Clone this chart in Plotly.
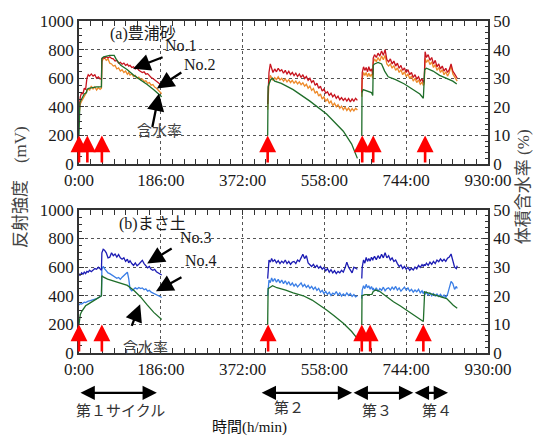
import plotly.graph_objects as go

# ---------------- time grids (hours) ----------------
C1 = [0, 1, 3, 6, 9, 12, 15, 18, 21, 24, 28, 32, 36, 40, 44, 48, 51, 52, 55, 58,
      62, 66, 70, 74, 78, 82, 86, 90, 94, 98, 102, 106, 110, 113, 116, 120, 124, 128,
      132, 136, 140, 144, 148, 152, 156, 160, 164, 168, 172, 176, 180, 184, 188]
C2 = [429, 430, 432, 435, 438, 441, 445, 449, 453, 457, 461, 465, 469, 473, 477, 481,
      485, 489, 493, 497, 501, 505, 509, 513, 517, 521, 525, 529, 533, 537, 541, 545,
      549, 553, 557, 561, 565, 569, 573, 577, 581, 585, 589, 593, 597, 601, 605, 609,
      613, 617, 621, 625, 629, 633]
C3 = [643, 644, 647, 650, 653, 656, 659, 662, 665, 668, 669, 672, 676, 680, 684, 688,
      692, 696, 700, 704, 708, 712, 716, 720, 724, 728, 732, 736, 740, 744, 748, 752,
      756, 760, 764, 768, 772, 776, 780, 783, 785, 787, 790, 794, 798, 802, 806, 810,
      814, 818, 822, 826, 830, 834, 838, 842, 846, 850, 854, 858, 860]

# ---------------- (a) 豊浦砂 : reflection intensity (mV) ----------------
NO1_C1 = [380, 420, 470, 500, 490, 530, 520, 600, 625, 615, 630, 615, 625, 600, 610, 595, 600, 735, 745, 740,
          750, 742, 750, 738, 735, 720, 725, 705, 712, 698, 705, 690, 698, 685, 690, 675, 680, 665,
          672, 655, 650, 640, 645, 628, 632, 615, 605, 598, 590, 580, 572, 560, 548]
NO1_C2 = [420, 560, 640, 700, 665, 640, 665, 645, 670, 650, 660, 635, 655, 630, 648, 625,
          640, 618, 635, 612, 630, 605, 625, 598, 612, 585, 600, 570, 585, 550, 565, 530,
          545, 510, 525, 495, 505, 480, 495, 470, 485, 460, 475, 450, 465, 445, 460, 440,
          458, 435, 455, 440, 460, 445]
NO1_C3 = [500, 640, 680, 655, 675, 645, 680, 650, 665, 625, 740, 765, 745, 775, 755, 790,
          760, 800, 730, 715, 735, 700, 720, 685, 705, 670, 690, 655, 672, 640, 660, 625,
          640, 605, 625, 595, 610, 580, 595, 570, 590, 785, 745, 765, 725, 745, 700, 725,
          680, 700, 665, 685, 650, 670, 640, 660, 700, 650, 630, 610, 600]

NO2_C1 = [340, 380, 420, 440, 455, 470, 490, 510, 530, 515, 545, 525, 540, 518, 535, 522, 530, 715, 735, 742,
          725, 735, 705, 700, 685, 690, 665, 672, 650, 660, 640, 650, 628, 640, 622, 630, 612, 620,
          600, 608, 590, 595, 578, 582, 565, 570, 552, 556, 538, 530, 518, 505, 492]
NO2_C2 = [380, 500, 570, 620, 600, 585, 605, 590, 610, 588, 600, 580, 595, 575, 590, 570,
          585, 565, 580, 560, 575, 555, 568, 545, 558, 530, 545, 515, 528, 495, 510, 475,
          490, 455, 470, 440, 455, 425, 440, 410, 425, 400, 415, 390, 405, 380, 398, 375,
          392, 370, 388, 372, 390, 378]
NO2_C3 = [470, 600, 640, 620, 640, 610, 635, 612, 630, 600, 710, 735, 715, 745, 720, 755,
          730, 760, 700, 685, 700, 670, 688, 655, 672, 640, 660, 625, 645, 612, 630, 598,
          615, 580, 600, 570, 588, 558, 572, 550, 565, 740, 710, 730, 695, 715, 675, 695,
          655, 675, 640, 660, 625, 645, 615, 640, 690, 630, 610, 590, 580]

# (a) volumetric water content (%)
GA1_T = [0, 0.5, 2, 5, 8, 12, 17, 18, 22, 30, 40, 51, 52, 56, 70, 80, 85, 95, 110, 125, 140, 155, 170, 188]
GA1_V = [10, 20, 21.5, 22.5, 23.5, 24.5, 25, 26, 26.5, 26.8, 27, 27, 37, 37.5, 38, 38, 36.5, 34.5, 33, 31, 29.5, 27.8, 26, 23.5]
GA2_T = [429, 430, 432, 436, 440, 445, 460, 487, 525, 563, 601, 620, 633]
GA2_V = [10, 27, 28, 29.5, 30, 29, 28.2, 26, 22, 17.5, 11.5, 7, 2]
GA3_T = [643, 643.5, 646, 655, 665, 668, 669, 672, 680, 688, 695, 703, 720, 740, 760, 775, 783, 786, 790, 805, 820, 835, 850, 859]
GA3_V = [10, 25, 26, 25.5, 25, 24, 34.5, 35, 35.5, 35, 32.5, 30.5, 29.5, 28, 26, 24.5, 23, 33, 33.5, 32.5, 31, 30, 29, 28]

# ---------------- (b) まさ土 ----------------
NO3_C1 = [540, 550, 545, 560, 550, 565, 555, 570, 565, 578, 568, 582, 590, 585, 600, 588, 578, 700, 725, 718,
          700, 665, 670, 700, 680, 692, 670, 688, 665, 655, 665, 640, 655, 630, 645, 625, 612, 630,
          610, 620, 632, 648, 625, 605, 595, 605, 585, 578, 585, 568, 560, 552, 545]
NO3_C2 = [520, 600, 650, 635, 660, 640, 652, 630, 645, 625, 642, 630, 650, 625, 640, 620,
          635, 640, 625, 650, 640, 665, 690, 660, 680, 630, 620, 605, 620, 598, 612, 592,
          605, 585, 598, 575, 590, 565, 582, 560, 575, 555, 570, 560, 578, 565, 595, 635,
          600, 575, 560, 600, 590, 585]
NO3_C3 = [520, 600, 650, 628, 668, 640, 660, 642, 670, 648, 660, 675, 652, 680, 660, 690,
          665, 700, 665, 680, 650, 665, 640, 650, 625, 605, 615, 590, 605, 585, 598, 578,
          592, 580, 600, 588, 612, 598, 618, 605, 620, 610, 628, 612, 635, 620, 640, 625,
          650, 638, 658, 642, 655, 640, 662, 670, 692, 650, 600, 590, 610]

NO4_C1 = [335, 340, 345, 342, 350, 355, 352, 360, 362, 365, 368, 372, 378, 380, 386, 392, 400, 585, 605, 590,
          572, 560, 555, 548, 540, 535, 522, 528, 515, 530, 540, 552, 565, 520, 450, 435, 445, 455,
          448, 458, 450, 455, 442, 448, 432, 438, 425, 420, 415, 410, 402, 395, 388]
NO4_C2 = [400, 480, 510, 492, 525, 500, 520, 495, 515, 490, 510, 485, 505, 480, 498, 472,
          490, 468, 482, 462, 480, 490, 465, 480, 458, 472, 452, 466, 445, 460, 438, 452,
          425, 438, 415, 430, 410, 425, 402, 418, 410, 430, 405, 420, 398, 412, 400, 420,
          402, 415, 395, 408, 392, 400]
NO4_C3 = [380, 440, 470, 450, 480, 455, 470, 445, 465, 440, 455, 435, 455, 430, 450, 438,
          460, 435, 450, 455, 440, 460, 445, 465, 440, 455, 432, 448, 460, 440, 455, 432,
          445, 425, 440, 428, 445, 420, 435, 415, 430, 410, 425, 405, 420, 400, 415, 398,
          412, 395, 410, 390, 405, 388, 410, 455, 500, 485, 445, 465, 450]

GB1_T = [0, 1, 3, 6, 10, 15, 20, 30, 40, 48, 51, 52, 56, 65, 80, 95, 110, 125, 140, 155, 170, 188]
GB1_V = [10, 12, 13.5, 14.5, 15.5, 16.5, 17, 18, 19, 19.5, 20, 27, 26.5, 25.8, 25, 24.4, 23.6, 21.8, 19.6, 16.8, 14.2, 11.7]
GB2_T = [429, 430, 435, 440, 450, 470, 487, 510, 530, 550, 563, 580, 601, 620, 633]
GB2_V = [10, 22.5, 23, 23.5, 22.8, 22, 21, 20, 18.5, 16.5, 15, 13, 10.4, 7.5, 5]
GB3_T = [643, 643.5, 650, 662, 666, 669, 675, 684, 700, 715, 730, 745, 760, 775, 783, 786, 795, 813, 836, 851, 860]
GB3_V = [10, 20, 20.4, 20.4, 20.5, 21.5, 22, 21.5, 19.5, 17.9, 16.5, 15, 13.5, 12, 11, 21.4, 21, 20.2, 19, 16.7, 15.6]

# water supply times (red arrows)
SUPPLY_A = [0, 19, 52, 429, 644, 669, 787]
SUPPLY_B = [0, 52, 430, 643, 662, 783]

TICK_VALS = [0, 186, 372, 558, 744, 930]
TICK_TEXT = ["0:00", "186:00", "372:00", "558:00", "744:00", "930:00"]


def join(*segs):
    out = []
    for i, s in enumerate(segs):
        if i:
            out.append(None)
        out.extend(s)
    return out


T_ALL = join(C1, C2, C3)

RED = "#c8141e"
ORANGE = "#ee8a2a"
GREEN = "#1f6e2a"
DBLUE = "#1c1cb4"
LBLUE = "#3a7ee6"

fig = go.Figure()
fig.add_trace(go.Scatter(x=T_ALL, y=join(NO2_C1, NO2_C2, NO2_C3), mode="lines",
                         line=dict(color=ORANGE, width=1.3), xaxis="x", yaxis="y"))
fig.add_trace(go.Scatter(x=T_ALL, y=join(NO1_C1, NO1_C2, NO1_C3), mode="lines",
                         line=dict(color=RED, width=1.3), xaxis="x", yaxis="y"))
fig.add_trace(go.Scatter(x=join(GA1_T, GA2_T, GA3_T), y=join(GA1_V, GA2_V, GA3_V), mode="lines",
                         line=dict(color=GREEN, width=1.3), xaxis="x", yaxis="y2"))

fig.add_trace(go.Scatter(x=T_ALL, y=join(NO4_C1, NO4_C2, NO4_C3), mode="lines",
                         line=dict(color=LBLUE, width=1.3), xaxis="x2", yaxis="y3"))
fig.add_trace(go.Scatter(x=T_ALL, y=join(NO3_C1, NO3_C2, NO3_C3), mode="lines",
                         line=dict(color=DBLUE, width=1.3), xaxis="x2", yaxis="y3"))
fig.add_trace(go.Scatter(x=join(GB1_T, GB2_T, GB3_T), y=join(GB1_V, GB2_V, GB3_V), mode="lines",
                         line=dict(color=GREEN, width=1.3), xaxis="x2", yaxis="y4"))

AX_COL = "#333333"
SERIF = "Liberation Serif"
TICKFONT = dict(family=SERIF, size=17, color="#1a1a1a")
GRID = dict(showgrid=True, gridcolor="#555555", griddash="dot", gridwidth=1)


def xax(anchor):
    return dict(anchor=anchor, domain=[0, 1], range=[0, 930], tickvals=TICK_VALS, ticktext=TICK_TEXT,
                showline=True, linecolor=AX_COL, linewidth=1.5, mirror="allticks",
                ticks="inside", ticklen=5, tickcolor=AX_COL, tickwidth=1,
                minor=dict(dtick=186 / 7, tick0=0, ticks="inside", ticklen=3, tickcolor=AX_COL, showgrid=False),
                tickfont=TICKFONT, zeroline=False, **GRID)


def yleft(anchor, dom):
    return dict(anchor=anchor, domain=dom, range=[0, 1000], tickvals=[0, 200, 400, 600, 800, 1000],
                showline=True, linecolor=AX_COL, linewidth=1.5, ticks="inside", ticklen=5, tickcolor=AX_COL,
                minor=dict(dtick=50, ticks="inside", ticklen=3, tickcolor=AX_COL, showgrid=False),
                tickfont=TICKFONT, zeroline=False, **GRID)


def yright(anchor, over):
    return dict(anchor=anchor, overlaying=over, side="right", range=[0, 50], tickvals=[0, 10, 20, 30, 40, 50],
                showline=True, linecolor=AX_COL, linewidth=1.5, ticks="inside", ticklen=5, tickcolor=AX_COL,
                minor=dict(dtick=2, ticks="inside", ticklen=3, tickcolor=AX_COL, showgrid=False),
                tickfont=TICKFONT, zeroline=False, showgrid=False)


TOP_DOM = [0.569, 1.0]
BOT_DOM = [0.0, 0.431]

annotations = []
# red water-supply arrows
for t in SUPPLY_A:
    annotations.append(dict(x=t, y=200, ax=t, ay=0, xref="x", yref="y", axref="x", ayref="y", text="",
                            showarrow=True, arrowhead=2, arrowsize=1.3, arrowwidth=2.6, arrowcolor="#ff0000"))
for t in SUPPLY_B:
    annotations.append(dict(x=t, y=200, ax=t, ay=0, xref="x2", yref="y3", axref="x2", ayref="y3", text="",
                            showarrow=True, arrowhead=2, arrowsize=1.3, arrowwidth=2.6, arrowcolor="#ff0000"))

LABEL_FONT = dict(family=SERIF + ", Noto Sans CJK JP", size=16, color="#1a1a1a")
GRAY_FONT = dict(family="Noto Sans CJK JP", size=15, color="#444444")


def pointer(x, y, ax, ay, xr, yr):
    return dict(x=x, y=y, ax=ax, ay=ay, xref=xr, yref=yr, text="", showarrow=True,
                arrowhead=2, arrowsize=1.5, arrowwidth=2.3, arrowcolor="#000000")


def label(x, y, text, xr, yr, font=LABEL_FONT):
    return dict(x=x, y=y, xref=xr, yref=yr, text=text, showarrow=False, font=font,
                xanchor="center", yanchor="middle")


annotations += [
    label(146, 912, "(a)豊浦砂", "x", "y"),
    label(233, 826, "No.1", "x", "y"),
    label(275, 694, "No.2", "x", "y"),
    label(182, 243, "含水率", "x", "y", GRAY_FONT),
    pointer(123, 667, 31, -12, "x", "y"),
    pointer(177, 528, 26, -17, "x", "y"),
    pointer(182, 493, -7, 35, "x", "y"),
    label(166, 903, "(b)まさ土", "x2", "y3"),
    label(266, 806, "No.3", "x2", "y3"),
    label(277, 646, "No.4", "x2", "y3"),
    label(151, 42, "含水率", "x2", "y3", GRAY_FONT),
    pointer(155, 625, 26, -16, "x2", "y3"),
    pointer(175, 431, 27, -15, "x2", "y3"),
    pointer(139, 340, -9, 23, "x2", "y3"),
]

# cycle spans below the chart
CYC_Y = -0.12
for x0, x1 in [(0, 177), (412, 621), (621, 760), (760, 839)]:
    px = (x1 - x0) * 409 / 930
    annotations.append(dict(x=x1, y=CYC_Y, xref="x2", yref="paper", ax=-px, ay=0, axref="pixel", ayref="pixel",
                            text="", showarrow=True, arrowhead=2, startarrowhead=2, arrowside="end+start",
                            arrowsize=1.3, startarrowsize=1.3, arrowwidth=2.2, arrowcolor="#000000"))

CJK_FONT = dict(family="Noto Sans CJK JP", size=15, color="#333333")


def free(x, y, text, xr, font, angle=0):
    return dict(x=x, y=y, xref=xr, yref="paper", text=text, showarrow=False, font=font,
                xanchor="center", yanchor="middle", textangle=angle)


annotations += [
    free(95, -0.171, "第１サイクル", "x2", CJK_FONT),
    free(478, -0.162, "第２", "x2", CJK_FONT),
    free(678, -0.171, "第３", "x2", CJK_FONT),
    free(815, -0.171, "第４", "x2", CJK_FONT),
    free(0.418, -0.225, "時間(h/min)", "paper",
         dict(family=SERIF + ", Noto Sans CJK JP", size=15, color="#111111")),
    free(-0.144, 0.5, "反射強度　(mV)", "paper",
         dict(family=SERIF + ", Noto Sans CJK JP", size=17, color="#444444"), -90),
    free(1.086, 0.5, "体積含水率 (%)", "paper",
         dict(family=SERIF + ", Noto Sans CJK JP", size=17, color="#444444"), -90),
]

fig.update_layout(
    width=537, height=437,
    margin=dict(l=79, r=49, t=19, b=84),
    paper_bgcolor="white", plot_bgcolor="white",
    showlegend=False,
    xaxis=xax("y"),
    yaxis=yleft("x", TOP_DOM),
    yaxis2=yright("x", "y"),
    xaxis2=xax("y3"),
    yaxis3=yleft("x2", BOT_DOM),
    yaxis4=yright("x2", "y3"),
    annotations=annotations,
)

fig.write_html("out.html")
